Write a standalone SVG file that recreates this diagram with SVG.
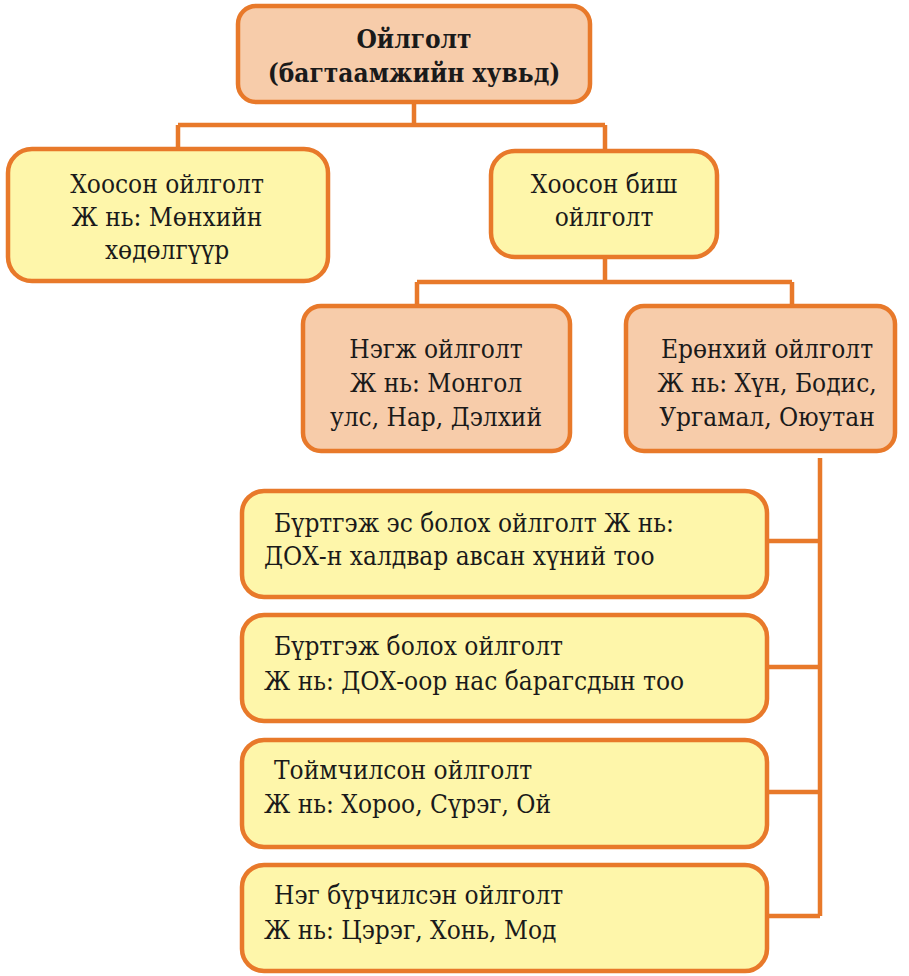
<svg xmlns="http://www.w3.org/2000/svg" width="909" height="976" viewBox="0 0 909 976" font-family="DejaVu Serif Condensed, DejaVu Serif, serif" font-stretch="condensed" font-size="26">
<style>
.box{stroke:#E8792A;stroke-width:4.5}
.peach{fill:#F7CCAA}
.yel{fill:#FEF6AA}
.t{fill:#1a1a1a}
.c{text-anchor:middle}
.b{font-weight:bold}
.ln{fill:none;stroke:#E8792A;stroke-width:4.5}
</style>
<rect width="909" height="976" fill="#ffffff"/>
<g id="connectors">
<path class="ln" d="M414 102V125M178 125H605M178 125V148M605 125V150"/>
<path class="ln" d="M605 258V282M417 282H792M417 282V305M792 282V305"/>
<path class="ln" d="M820 458V916M767 541H820M767 667H820M767 792H820M767 916H820"/>
</g>
<g id="root">
<rect class="box peach" x="238" y="6" width="352" height="96" rx="18"/>
<text class="t c b" x="414" y="48">Ойлголт</text>
<text class="t c b" x="414" y="82">(багтаамжийн хувьд)</text>
</g>
<g id="empty">
<rect class="box yel" x="8" y="149" width="320" height="132" rx="24"/>
<text class="t c" x="167" y="193">Хоосон ойлголт</text>
<text class="t c" x="167" y="226">Ж нь: Мөнхийн</text>
<text class="t c" x="167" y="259">хөдөлгүүр</text>
</g>
<g id="nonempty">
<rect class="box yel" x="491" y="151" width="226" height="106" rx="24"/>
<text class="t c" x="604" y="193">Хоосон биш</text>
<text class="t c" x="604" y="226">ойлголт</text>
</g>
<g id="unit">
<rect class="box peach" x="303" y="306" width="267" height="145" rx="18"/>
<text class="t c" x="436" y="358">Нэгж ойлголт</text>
<text class="t c" x="436" y="392">Ж нь: Монгол</text>
<text class="t c" x="436" y="426">улс, Нар, Дэлхий</text>
</g>
<g id="general">
<rect class="box peach" x="626" y="306" width="269" height="145" rx="18"/>
<text class="t c" x="767" y="358">Ерөнхий ойлголт</text>
<text class="t c" x="767" y="392">Ж нь: Хүн, Бодис,</text>
<text class="t c" x="767" y="426">Ургамал, Оюутан</text>
</g>
<g id="uncountable">
<rect class="box yel" x="242" y="491" width="525" height="106" rx="22"/>
<text class="t" x="274" y="532">Бүртгэж эс болох ойлголт Ж нь:</text>
<text class="t" x="264" y="565">ДОХ-н халдвар авсан хүний тоо</text>
</g>
<g id="countable">
<rect class="box yel" x="242" y="615" width="525" height="106" rx="22"/>
<text class="t" x="274" y="655">Бүртгэж болох ойлголт</text>
<text class="t" x="264" y="690">Ж нь: ДОХ-оор нас барагсдын тоо</text>
</g>
<g id="collective">
<rect class="box yel" x="242" y="740" width="525" height="107" rx="22"/>
<text class="t" x="274" y="779">Тоймчилсон ойлголт</text>
<text class="t" x="264" y="813">Ж нь: Хороо, Сүрэг, Ой</text>
</g>
<g id="individual">
<rect class="box yel" x="242" y="865" width="525" height="106" rx="22"/>
<text class="t" x="274" y="904">Нэг бүрчилсэн ойлголт</text>
<text class="t" x="264" y="939">Ж нь: Цэрэг, Хонь, Мод</text>
</g>
</svg>
